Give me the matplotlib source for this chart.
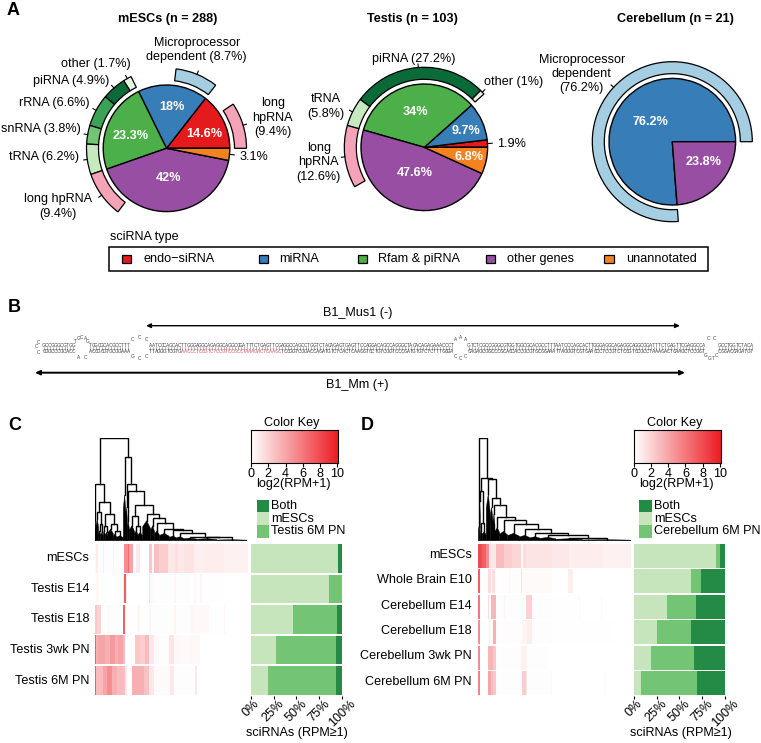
import numpy as np
import matplotlib
matplotlib.use('Agg')
import matplotlib.pyplot as plt
from matplotlib.colors import LinearSegmentedColormap
from matplotlib.patches import Rectangle, Polygon

plt.rcParams['font.family'] = ['Liberation Sans', 'DejaVu Sans']
plt.rcParams['font.size'] = 9.1

W, H = 761, 743

# panel A values
RED, BLUE, GREEN, PURPLE, ORANGE = '#E41A1C', '#377EB8', '#4DAF4A', '#984EA3', '#F58220'
PINK, PALE_BLUE = '#F4A3B8', '#A6CEE3'
G1, G2, G3, G4, G5 = '#E5F5E0', '#0B6B38', '#3BA356', '#74C476', '#C7E9C0'

mesc_types = [14.6, 18, 23.3, 42, 3.1]
testis_types = [1.9, 9.7, 34, 47.6, 6.8]
cereb_types = [76.2, 23.8]

# ring values, None colour = open stretch of the ring
mesc_ring = [9.4, 5.2, 8.7, 9.3, 1.7, 4.9, 6.6, 3.8, 6.2, 9.4, 35.7]
mesc_ring_col = [PINK, None, PALE_BLUE, None, G1, G2, G3, G4, G5, PINK, None]
testis_ring = [11.6, 1, 27.2, 5.8, 12.6, 41.8]
testis_ring_col = [None, G1, G2, G5, PINK, None]
cereb_ring = [76.2, 23.8]
cereb_ring_col = [PALE_BLUE, None]

legend_names = ['endo\u2212siRNA', 'miRNA', 'Rfam & piRNA', 'other genes', 'unannotated']

# panel C / D stacked bars: mESCs only, tissue only, both
c_rows = ['mESCs', 'Testis E14', 'Testis E18', 'Testis 3wk PN', 'Testis 6M PN']
c_only_esc = [96, 85.8, 46, 27.7, 18.6]
c_only_tissue = [0, 14.2, 48.5, 65.7, 74.8]
c_both = [4, 0, 5.5, 6.6, 6.6]

d_rows = ['mESCs', 'Whole Brain E10', 'Cerebellum E14', 'Cerebellum E18', 'Cerebellum 3wk PN', 'Cerebellum 6M PN']
d_only_esc = [90.1, 62.8, 36, 26, 18.6, 8.4]
d_only_tissue = [4.4, 10.9, 32, 36.8, 47.8, 60.9]
d_both = [5.5, 26.3, 32, 37.2, 33.6, 30.7]

# heatmap rows as (log2(RPM+1) value, last column of the run)
c_heat = [
    [(.3, 3), (.8, 9), (.1, 23), (.7, 27), (.1, 53), (.6, 57), (.1, 85), (.3, 88), (5, 98), (6.5, 103), (4, 113),
     (0, 123), (1, 133), (0, 160), (2.5, 171), (.3, 177), (2.8, 190), (2.2, 218), (1, 240), (1.4, 247), (1, 265),
     (1.2, 295), (.7, 325), (.8, 385), (.6, 457)],
    [(.1, 3), (.3, 11), (.05, 85), (1, 88), (7, 92), (.8, 95), (.03, 160), (1.5, 165), (.2, 175), (.1, 235), (.4, 243),
     (.1, 285), (.05, 297), (.3, 301), (.05, 315), (.4, 321), (.05, 385), (.02, 457)],
    [(2.5, 5), (2, 19), (0, 35), (.2, 45), (.1, 85), (7, 90), (.05, 125), (.3, 135), (.05, 160), (.5, 168), (.1, 235),
     (.5, 243), (.1, 285), (.3, 295), (.2, 315), (.3, 340), (.05, 385), (.4, 389), (0, 457)],
    [(7, 3), (3.5, 10), (4, 30), (3.5, 45), (4.5, 60), (3.5, 70), (4, 85), (3, 90), (0, 120), (2.5, 135), (2.2, 150),
     (3, 160), (1, 175), (.3, 190), (.1, 220), (1.2, 235), (.3, 250), (.2, 285), (.3, 313), (0, 457)],
    [(7, 4), (3, 23), (4, 37), (5, 50), (3.5, 65), (3, 85), (2.8, 90), (1, 97), (0, 112), (3.5, 145), (2.7, 160),
     (1, 175), (.2, 225), (1, 237), (.1, 300), (1, 305), (0, 457)],
]
d_heat = [
    [(8, 12), (7, 24), (5, 34), (1.2, 42), (1, 54), (3, 77), (2.2, 102), (1.8, 127), (.3, 134), (1.5, 144), (1.2, 222),
     (1, 272), (.8, 372), (.6, 457)],
    [(7, 5), (.1, 30), (1.5, 38), (.2, 42), (1.5, 52), (.05, 92), (.4, 97), (.1, 127), (1.2, 132), (.2, 222), (.05, 270),
     (.8, 284), (0, 457)],
    [(6, 5), (0, 30), (1.5, 34), (.2, 40), (3.2, 54), (.1, 77), (.4, 82), (.1, 142), (2, 162), (.1, 222), (.05, 302),
     (.3, 305), (.02, 367), (.3, 370), (0, 457)],
    [(5, 5), (0, 32), (.8, 37), (.2, 44), (3.5, 54), (.15, 132), (.5, 147), (.8, 162), (.1, 222), (.05, 402), (0, 457)],
    [(5, 5), (0, 29), (3.3, 44), (2.5, 54), (.1, 127), (.6, 142), (.4, 147), (.1, 212), (.03, 457)],
    [(5.5, 5), (0, 29), (4, 39), (3, 44), (2.5, 54), (.1, 132), (2.2, 142), (1.2, 147), (.1, 217), (.3, 222), (.02, 377),
     (.1, 382), (0, 457)],
]


# dendrograms: node = (height, left, right), clump = (leaf count, height)
def N(h, a, b):
    return (h, a, b)


def T(n, h):
    return ('clump', n, h)


tail_c = N(12, T(40, 8), N(10, T(60, 6), T(92, 3)))
right_c = N(69, T(12, 45), N(52, T(14, 30), N(35, T(30, 22), N(32, T(22, 14), N(22, T(20, 12), tail_c)))))
c_tree = N(307,
           N(170, T(3, 60),
             N(117,
               N(87, T(8, 65), N(50, T(6, 30), T(8, 25))),
               N(80, N(45, T(6, 30), T(8, 25)), N(50, T(16, 35), N(28, T(10, 20), T(20, 15)))))),
           N(252, T(8, 137),
             N(170, T(4, 100),
               N(149, T(6, 60),
                 N(107,
                   N(74, T(16, 45), N(45, T(10, 30), T(14, 25))),
                   N(80, T(24, 60), right_c))))))

tail_d = N(17, T(46, 10), N(8, T(80, 6), T(145, 3)))
d_tree = N(307, T(3, 40),
           N(189,
             N(150, T(3, 120), N(52, T(6, 30), T(12, 28))),
             N(184, T(12, 140),
               N(129, T(8, 100),
                 N(107, T(6, 80),
                   N(70, T(14, 40),
                     N(62, T(24, 28),
                       N(50, T(36, 22),
                         N(34, T(30, 16), N(22, T(32, 12), tail_d))))))))))

# panel B sequence drawn along the hairpin
b1_seq = 'GCCGGGCGTGGTGGCGCACGCCTTTAATCCCAGCACTTGGGAGGCAGAGGCAGGCGGATTTCTGAGTTCGAGGCCAGCCTGGTCTACAGAGTGAGTTCCAGGACAGCCAGGGCTACACAGAGAAACCCTGTCTC'
stem_pairs = [11, 14, 104, 81, 12]
loop_top = ['TGCAG', 'CCC', 'AAA', 'CC']
loop_bottom = ['AC', 'GCC', 'CCC', 'GGTC']
loop_width = [14, 19, 14, 13]

heat_cmap = LinearSegmentedColormap.from_list('wr', ['#FFFFFF', '#ED1C24'])
STACK = ['#C7E5BD', '#74C476', '#238B45']

fig = plt.figure(figsize=(W / 100, H / 100), dpi=100)


def px_axes(x0, y0, x1, y1):
    return fig.add_axes([x0 / W, 1 - y1 / H, (x1 - x0) / W, (y1 - y0) / H])


ax = px_axes(0, 0, W, H)
ax.set_zorder(5)
ax.patch.set_alpha(0)


def Y(y):
    return H - y


def label(x, y, s, **kw):
    kw.setdefault('ha', 'center')
    kw.setdefault('va', 'center')
    kw.setdefault('linespacing', 1.27)
    return ax.text(x, Y(y), s, **kw)


def ring_tick(cx, cy, theta, r0, r1):
    a = np.deg2rad(theta)
    ax.plot([cx + r0 * np.cos(a), cx + r1 * np.cos(a)],
            [Y(cy) + r0 * np.sin(a), Y(cy) + r1 * np.sin(a)], color='k', lw=0.8)


def draw_pie(cx, cy, values, colors, ring, ring_colors, ticks):
    wedges, _ = ax.pie(values, center=(cx, Y(cy)), radius=63.3, colors=colors, startangle=0, frame=True,
                       wedgeprops=dict(edgecolor='k', linewidth=1))
    rw, _ = ax.pie(ring, center=(cx, Y(cy)), radius=80, colors=[c or 'none' for c in ring_colors], startangle=0,
                   frame=True, wedgeprops=dict(width=12, edgecolor='k', linewidth=0.9))
    for w, c in zip(rw, ring_colors):
        if c is None:
            w.set_visible(False)
    for i in ticks:
        ring_tick(cx, cy, (rw[i].theta1 + rw[i].theta2) / 2, 80, 83.5)
    return wedges, rw


# panel A
w1, _ = draw_pie(166.5, 148.3, mesc_types, [RED, BLUE, GREEN, PURPLE, ORANGE], mesc_ring, mesc_ring_col,
                 [0, 2, 4, 5, 6, 7, 8, 9])
ring_tick(166.5, 148.3, (w1[4].theta1 + w1[4].theta2) / 2, 63.3, 68)
w2, _ = draw_pie(424.3, 147.3, testis_types, [RED, BLUE, GREEN, PURPLE, ORANGE], testis_ring, testis_ring_col,
                 [1, 2, 3, 4])
ring_tick(424.3, 147.3, (w2[0].theta1 + w2[0].theta2) / 2, 63.3, 68)
draw_pie(672.3, 141.7, cereb_types, [BLUE, PURPLE], cereb_ring, cereb_ring_col, [0])

bold = dict(fontweight='bold')
white = dict(fontweight='bold', color='white')
label(167.7, 18.7, 'mESCs (n = 288)', **bold)
label(412, 18.7, 'Testis (n = 103)', **bold)
label(675.7, 18.7, 'Cerebellum (n = 21)', **bold)

for x, y, s in [(171.7, 107.3, '18%'), (204.3, 134, '14.6%'), (131, 135.7, '23.3%'), (168.3, 178, '42%'),
                (415, 112.3, '34%'), (465.7, 131.3, '9.7%'), (469.3, 156.7, '6.8%'), (414.7, 173.3, '47.6%'),
                (650, 121.7, '76.2%'), (703.3, 161.7, '23.8%')]:
    label(x, y, s, **white)

for x, y, s in [(196.7, 50, 'Microprocessor\ndependent (8.7%)'), (95.7, 64.3, 'other (1.7%)'),
                (70.7, 81, 'piRNA (4.9%)'), (54.3, 103, 'rRNA (6.6%)'), (40.7, 129.3, 'snRNA (3.8%)'),
                (44, 157.3, 'tRNA (6.2%)'), (57.7, 206.7, 'long hpRNA\n(9.4%)'),
                (272.7, 117.7, 'long\nhpRNA\n(9.4%)'), (254.3, 157.3, '3.1%'),
                (414, 58.7, 'piRNA (27.2%)'), (513.3, 82.3, 'other (1%)'), (326, 106.7, 'tRNA\n(5.8%)'),
                (318.7, 162.3, 'long\nhpRNA\n(12.6%)'), (511.7, 144.3, '1.9%'),
                (581.7, 74, 'Microprocessor\ndependent\n(76.2%)')]:
    label(x, y, s)

# legend box
label(110, 237.3, 'sciRNA type', ha='left')
ax.add_patch(Rectangle((109.3, Y(270.7)), 599, 23.4, fc='white', ec='k', lw=1.1))
for sx, tx, c, s in zip([126.7, 263.3, 362.3, 490.3, 609], [143, 279.3, 378.3, 506.7, 625.7],
                        [RED, BLUE, GREEN, PURPLE, ORANGE], legend_names):
    ax.add_patch(Rectangle((sx - 4.7, Y(258.7) - 4), 9.4, 8, fc=c, ec='k', lw=0.9))
    label(tx, 258.7, s, ha='left')

# panel letters
for x, y, s in [(7, 10.5, 'A'), (8, 307, 'B'), (8, 426, 'C'), (361, 426, 'D')]:
    label(x, y, s, ha='left', fontweight='bold', fontsize=13)

# panel B arrows
for x0, x1, y, lw, s, ty in [(146, 680, 325.7, 1.0, 'B1_Mus1 (-)', 313), (35, 685, 372.7, 1.4, 'B1_Mm (+)', 385)]:
    ax.annotate('', xy=(x0, Y(y)), xytext=(x1, Y(y)),
                arrowprops=dict(arrowstyle='<|-|>,head_width=0.14,head_length=0.3', color='k', lw=lw, shrinkA=0, shrinkB=0))
    label(357.7, ty, s)

# panel B hairpin
y_top, y_bot = 345.5, 351.5
dx = 2.93
x = 44.0
i = 0
base = dict(fontsize=3.4, ha='center', va='center', color='#444444', linespacing=1)
label(36.5, 347, 'C', **base)
label(38.5, 343, 'C', **base)
label(38.5, 353, 'C', **base)
comp = {'A': 'T', 'T': 'A', 'G': 'C', 'C': 'G'}
for s, n_pairs in enumerate(stem_pairs):
    for k in range(n_pairs):
        ch = b1_seq[i % len(b1_seq)]
        i += 1
        label(x, y_top, ch, **base)
        bot = dict(base)
        if s == 2 and 11 <= k <= 44:
            bot['color'] = '#E0606A'
        label(x, y_bot, comp[ch], **bot)
        ax.plot([x, x], [Y(y_top + 1.4), Y(y_bot - 1.4)], color='#777777', lw=0.4)
        x += dx
    if s < len(loop_width):
        lw_ = loop_width[s]
        for letters, sign in [(loop_top[s], 1), (loop_bottom[s], -1)]:
            n = len(letters)
            for j, ch in enumerate(letters):
                ang = np.pi * (j + 1) / (n + 1)
                lx = x - dx / 2 + lw_ / 2 - lw_ / 2 * np.cos(ang)
                ly = (y_top - 8 * np.sin(ang)) if sign > 0 else (y_bot + 7 * np.sin(ang))
                label(lx, ly, ch, **base)
        x += lw_

ax.set_xlim(0, W)
ax.set_ylim(0, H)
ax.set_aspect('auto')
ax.axis('off')


def draw_tree(a, node, x0):
    # returns x of the node, its height and the next free leaf position
    if node[0] == 'clump':
        _, n, h = node
        mound = [(x0, 0), (x0, h * 0.7), (x0 + n / 2, h), (x0 + n, h * 0.6), (x0 + n, 0)]
        a.add_patch(Polygon(mound, fc='k', ec='k', lw=0.3))
        return x0 + n / 2, h, x0 + n
    h, left, right = node
    xl, hl, x1 = draw_tree(a, left, x0)
    xr, hr, x2 = draw_tree(a, right, x1)
    a.plot([xl, xl, xr, xr], [hl, h, h, hr], color='k', lw=1.0, solid_joinstyle='miter')
    return (xl + xr) / 2, h, x2


def heat_panel(hx0, hx1, bx0, bx1, tree, tree_y0, rows, heat, only_esc, only_tissue, both, lx, row_y, legend_tissue,
               sw_x0, sw_x1, leg_x, key_x0, key_title_x, key_label_x, xlabel_x):
    # dendrogram
    d = px_axes(hx0, 438.3, hx1, tree_y0)
    draw_tree(d, tree, 0)
    d.set_xlim(0, 457)
    d.set_ylim(0, 307)
    d.axis('off')

    # heatmap
    n = len(rows)
    h = px_axes(hx0, 543.5, hx1, 696)
    for r, runs in enumerate(heat):
        ends = [e for _, e in runs]
        vals = np.repeat([v for v, _ in runs], np.diff([0] + ends))
        h.imshow(vals[None, :], extent=(0, 457, r + 0.96, r + 0.02), aspect='auto', cmap=heat_cmap, vmin=0, vmax=10,
                 interpolation='nearest')
    h.set_xlim(0, 457)
    h.set_ylim(n, 0)
    h.axis('off')

    # stacked bars
    b = px_axes(bx0, 543.5, bx1, 696)
    pos = np.arange(n) + 0.49
    b.barh(pos, only_esc, height=0.94, color=STACK[0])
    b.barh(pos, only_tissue, left=only_esc, height=0.94, color=STACK[1])
    b.barh(pos, both, left=np.add(only_esc, only_tissue), height=0.94, color=STACK[2])
    b.set_xlim(0, 100)
    b.set_ylim(n, 0)
    b.set_yticks([])
    for sp in ['top', 'left', 'right', 'bottom']:
        b.spines[sp].set_visible(False)
    b.set_xticks([0, 25, 50, 75, 100])
    b.set_xticklabels(['0%', '25%', '50%', '75%', '100%'], rotation=45, ha='center')
    b.tick_params(axis='x', length=2.5, width=0.8, pad=-1)
    label(xlabel_x, 733.3, 'sciRNAs (RPM\u22651)')

    for name, y in zip(rows, row_y):
        label(lx, y, name, ha='right')

    # colour key
    key = px_axes(key_x0, 430, key_x0 + 86.5, 462.7)
    key.imshow(np.linspace(0, 10, 256)[None, :], extent=(0, 10.1, 0, 1), aspect='auto', cmap=heat_cmap, vmin=0, vmax=10)
    key.set_yticks([])
    key.set_xticks([0, 2, 4, 6, 8, 10])
    key.tick_params(axis='x', length=3, width=0.8, pad=0.5)
    for sp in key.spines.values():
        sp.set_linewidth(0.8)
    label(key_title_x, 422.7, 'Color Key')
    label(key_label_x, 484.3, 'log2(RPM+1)')

    # bar legend
    for name, col, y in zip(['Both', 'mESCs', legend_tissue], [STACK[2], STACK[0], STACK[1]], [506, 518.7, 531.2]):
        ax.add_patch(Rectangle((sw_x0, Y(y + 6.4)), sw_x1 - sw_x0, 12.7, fc=col, ec='none'))
        label(leg_x, y, name, ha='left')


heat_panel(95, 247.3, 250.7, 342, c_tree, 540.7, c_rows, c_heat, c_only_esc, c_only_tissue, c_both, 89.3,
           [558.3, 589, 619.3, 650, 680.7], 'Testis 6M PN', 256.7, 269.3, 271.3, 251.3, 291.7, 293, 296.7)
heat_panel(478.3, 630.7, 633.7, 725, d_tree, 540.7, d_rows, d_heat, d_only_esc, d_only_tissue, d_both, 471.7,
           [555, 580, 605.7, 631, 656, 681.7], 'Cerebellum 6M PN', 639.3, 652.3, 654, 634, 674.7, 676, 681)

plt.savefig('out.png', dpi=100)
